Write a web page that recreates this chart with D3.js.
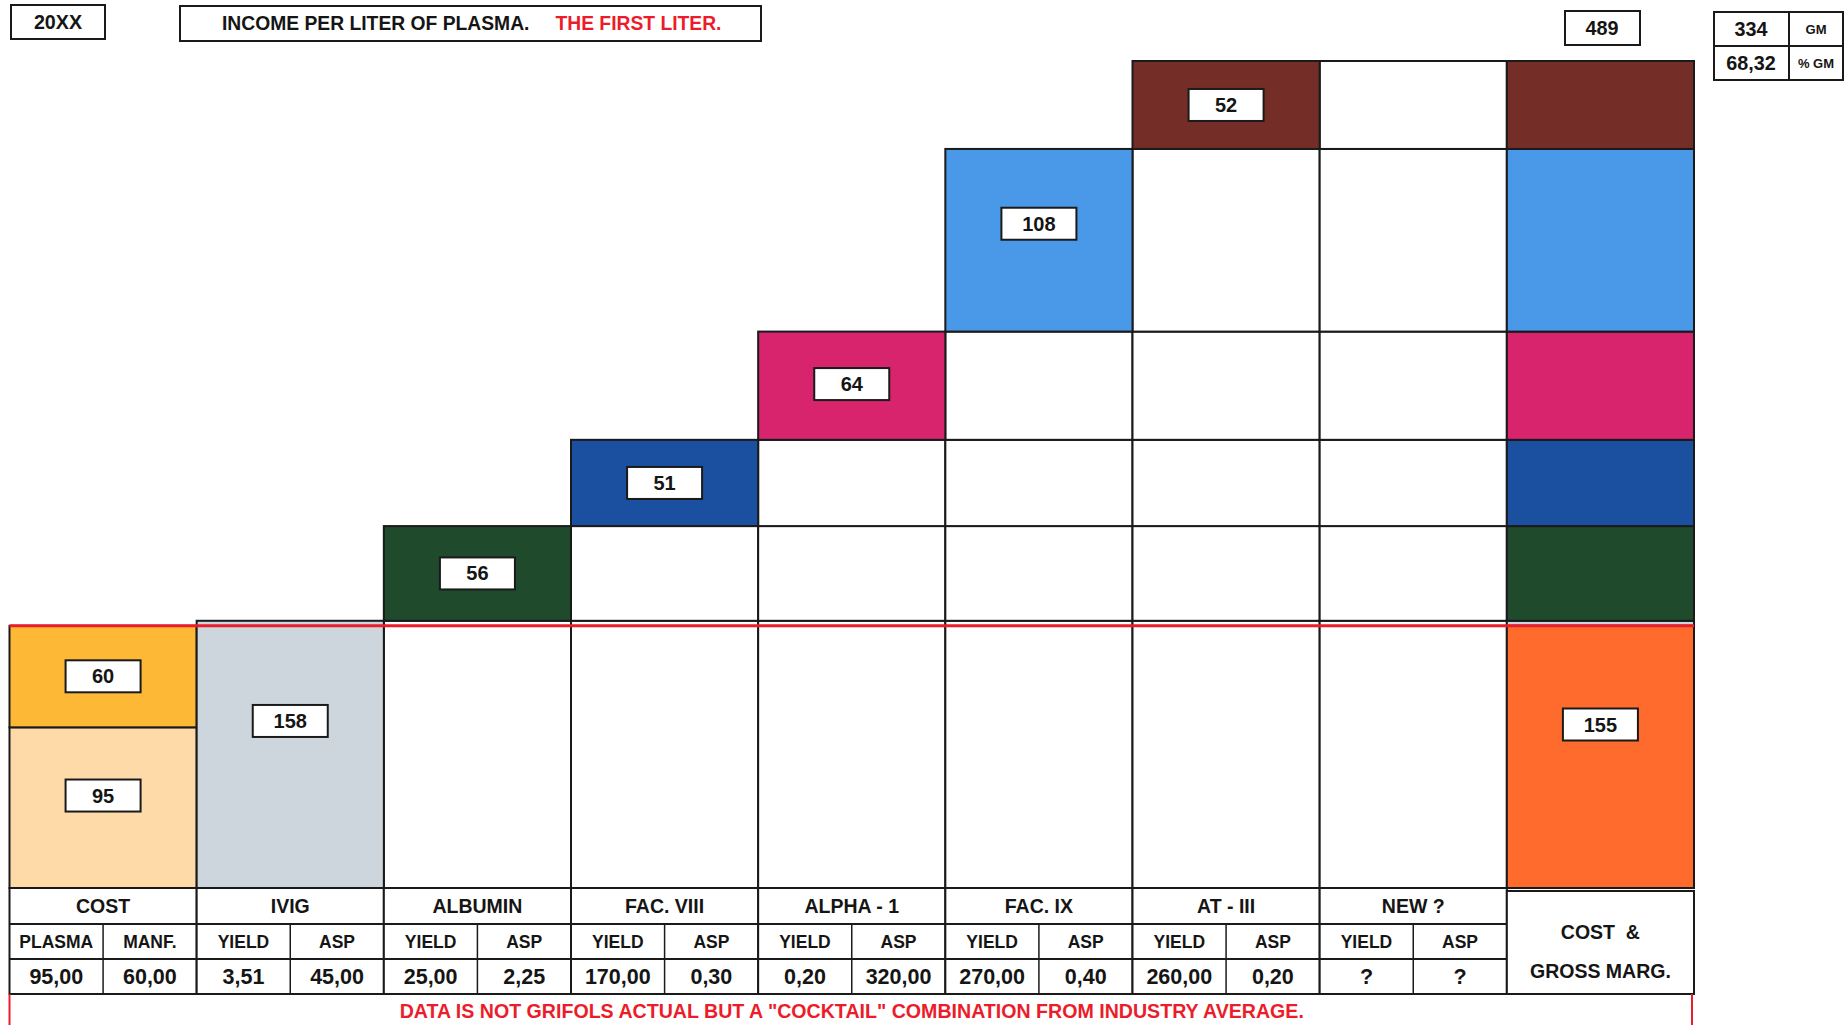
<!DOCTYPE html>
<html><head><meta charset="utf-8">
<script src="https://cdn.jsdelivr.net/npm/d3@7"></script>
<style>
html,body{margin:0;padding:0;background:#fff;}
svg{display:block;}
text{font-family:"Liberation Sans",Arial,Helvetica,sans-serif;font-weight:bold;fill:#151515;}
</style></head><body>
<svg id="chart" width="1845" height="1025"></svg>
<script>
// ---------- data ----------
const categories = ["COST","IVIG","ALBUMIN","FAC. VIII","ALPHA - 1","FAC. IX","AT - III","NEW ?"];
const totalKey = "TOTAL";
const totalLabelLines = ["COST  &","GROSS MARG."];
const costParts = ["PLASMA","MANF."];
const costValues = [95, 60];
const products = ["IVIG","ALBUMIN","FAC. VIII","ALPHA - 1","FAC. IX","AT - III","NEW ?"];
const productIncome = [158, 56, 51, 64, 108, 52, 0];
const subHeaders = [["PLASMA","MANF."],["YIELD","ASP"],["YIELD","ASP"],["YIELD","ASP"],["YIELD","ASP"],["YIELD","ASP"],["YIELD","ASP"],["YIELD","ASP"]];
const tableValues = [["95,00","60,00"],["3,51","45,00"],["25,00","2,25"],["170,00","0,30"],["0,20","320,00"],["270,00","0,40"],["260,00","0,20"],["?","?"]];
const totalIncome = 489;
const grossMargin = 334;
const grossMarginPct = "68,32";
const gmLabels = ["GM","% GM"];
const yearLabel = "20XX";
const titleMain = "INCOME PER LITER OF PLASMA.";
const titleRed = "THE FIRST LITER.";
const footnote = 'DATA IS NOT GRIFOLS ACTUAL BUT A "COCKTAIL" COMBINATION FROM INDUSTRY AVERAGE.';

// ---------- styles ----------
const costColors = ["#FDDAA8", "#FDB935"];
const productColors = ["#CDD5DD", "#1F4A2B", "#1B50A0", "#D7246D", "#4A99E9", "#742E27", "#FFFFFF"];
const totalCostColor = "#FE6B2D";
const ink = "#1a1a1a";
const red = "#EC1C2A";

const svg = d3.select("#chart");
const x = d3.scaleBand().domain([...categories, totalKey]).range([9.5, 1694]).padding(0);
const y = d3.scaleLinear().domain([0, totalIncome]).range([888, 61]);
const bw = x.bandwidth();

const costTotal = d3.sum(costValues);
const cumStart = productIncome.map((d, i) => d3.sum(productIncome.slice(0, i)));
const cumEnd = productIncome.map((d, i) => cumStart[i] + d);

const gGrid = svg.append("g");
const gBars = svg.append("g");
const gLab = svg.append("g");

function rect(g, x0, v0, v1, fill, w) {
  return g.append("rect")
    .attr("x", x0).attr("y", y(v1))
    .attr("width", w || bw).attr("height", y(v0) - y(v1))
    .attr("fill", fill).attr("stroke", ink).attr("stroke-width", 2);
}
function labelBox(cx, cy, txt) {
  gLab.append("rect").attr("x", cx - 37.5).attr("y", cy - 16).attr("width", 75).attr("height", 32)
    .attr("fill", "#fff").attr("stroke", ink).attr("stroke-width", 2);
  gLab.append("text").attr("x", cx).attr("y", cy + 7).attr("text-anchor", "middle")
    .attr("font-size", 20).text(txt);
}
function labelY(v0, v1) {
  const top = y(v1), h = y(v0) - y(v1);
  return top + h / 2 - 0.2 * Math.max(0, h - 100);
}

// ---------- cost column ----------
let acc = 0;
costValues.forEach((v, i) => {
  rect(gBars, x("COST"), acc, acc + v, costColors[i]);
  labelBox(x("COST") + bw / 2, labelY(acc, acc + v), v);
  acc += v;
});

// ---------- product waterfall ----------
products.forEach((p, i) => {
  for (let j = 0; j < i; j++) {
    if (productIncome[j] > 0) rect(gGrid, x(p), cumStart[j], cumEnd[j], "#fff");
  }
  if (productIncome[i] > 0) {
    rect(gBars, x(p), cumStart[i], cumEnd[i], productColors[i]);
    labelBox(x(p) + bw / 2, labelY(cumStart[i], cumEnd[i]), productIncome[i]);
  }
});

// ---------- total column ----------
products.forEach((p, i) => {
  const s = Math.max(cumStart[i], costTotal);
  if (cumEnd[i] > s) rect(gBars, x(totalKey), s, cumEnd[i], productColors[i]);
});
rect(gBars, x(totalKey), 0, costTotal, totalCostColor);
labelBox(x(totalKey) + bw / 2, labelY(0, costTotal), costTotal);

// cost line
svg.append("line").attr("x1", x("COST")).attr("x2", x(totalKey) + bw)
  .attr("y1", y(costTotal)).attr("y2", y(costTotal))
  .attr("stroke", red).attr("stroke-width", 3);
svg.node().appendChild(gLab.node());

// ---------- table ----------
const rows = [888, 924, 959, 994];
const gT = svg.append("g");
categories.forEach((c, i) => {
  const x0 = x(c);
  gT.append("rect").attr("x", x0).attr("y", rows[0]).attr("width", bw).attr("height", rows[3] - rows[0])
    .attr("fill", "#fff").attr("stroke", ink).attr("stroke-width", 2);
  [1, 2].forEach(r => gT.append("line").attr("x1", x0).attr("x2", x0 + bw)
    .attr("y1", rows[r]).attr("y2", rows[r]).attr("stroke", ink).attr("stroke-width", 2));
  gT.append("line").attr("x1", x0 + bw / 2).attr("x2", x0 + bw / 2)
    .attr("y1", rows[1]).attr("y2", rows[3]).attr("stroke", ink).attr("stroke-width", 1.5);
  gT.append("text").attr("x", x0 + bw / 2).attr("y", (rows[0] + rows[1]) / 2 + 7)
    .attr("text-anchor", "middle").attr("font-size", 19.5).text(c);
  subHeaders[i].forEach((s, k) => gT.append("text").attr("x", x0 + bw / 4 + k * bw / 2)
    .attr("y", (rows[1] + rows[2]) / 2 + 6.3).attr("text-anchor", "middle").attr("font-size", 17.5).text(s));
  tableValues[i].forEach((s, k) => gT.append("text").attr("x", x0 + bw / 4 + k * bw / 2)
    .attr("y", (rows[2] + rows[3]) / 2 + 7.8).attr("text-anchor", "middle").attr("font-size", 21.5).text(s));
});
gT.append("rect").attr("x", x(totalKey)).attr("y", rows[0] + 3).attr("width", bw).attr("height", rows[3] - rows[0] - 3)
  .attr("fill", "#fff").attr("stroke", ink).attr("stroke-width", 2);
totalLabelLines.forEach((t, k) => gT.append("text").attr("x", x(totalKey) + bw / 2)
  .attr("y", 932 + k * 39 + 7).attr("text-anchor", "middle").attr("font-size", 19.5)
  .attr("xml:space", "preserve").style("white-space", "pre").text(t));

// footer
[x("COST"), x(totalKey) + bw - 2].forEach(xx => svg.append("line").attr("x1", xx).attr("x2", xx)
  .attr("y1", rows[3]).attr("y2", 1025).attr("stroke", red).attr("stroke-width", 2));
svg.append("text").attr("x", (x("COST") + x(totalKey) + bw) / 2).attr("y", 1018)
  .attr("text-anchor", "middle").attr("font-size", 19.6).style("fill", red).text(footnote);

// ---------- header ----------
function box(x0, y0, w, h) {
  svg.append("rect").attr("x", x0).attr("y", y0).attr("width", w).attr("height", h)
    .attr("fill", "#fff").attr("stroke", ink).attr("stroke-width", 2);
}
box(11, 5, 94, 34);
svg.append("text").attr("x", 58).attr("y", 29).attr("text-anchor", "middle").attr("font-size", 19.7).text(yearLabel);

box(180, 6, 581, 35);
const tt = svg.append("text").attr("x", 222).attr("y", 30).attr("font-size", 19.3);
tt.append("tspan").text(titleMain);
tt.append("tspan").attr("dx", 26).style("fill", red).text(titleRed);

box(1565, 11, 75, 34);
svg.append("text").attr("x", 1602).attr("y", 35).attr("text-anchor", "middle").attr("font-size", 19.8).text(totalIncome);

box(1714, 12, 129, 68);
svg.append("line").attr("x1", 1714).attr("x2", 1843).attr("y1", 46).attr("y2", 46).attr("stroke", ink).attr("stroke-width", 2);
svg.append("line").attr("x1", 1789).attr("x2", 1789).attr("y1", 12).attr("y2", 80).attr("stroke", ink).attr("stroke-width", 2);
[grossMargin, grossMarginPct].forEach((v, k) => svg.append("text").attr("x", 1751).attr("y", 29 + k * 34 + 7)
  .attr("text-anchor", "middle").attr("font-size", 19.8).text(v));
gmLabels.forEach((v, k) => svg.append("text").attr("x", 1816).attr("y", 29 + k * 34 + 5)
  .attr("text-anchor", "middle").attr("font-size", 13).text(v));
</script></body></html>
